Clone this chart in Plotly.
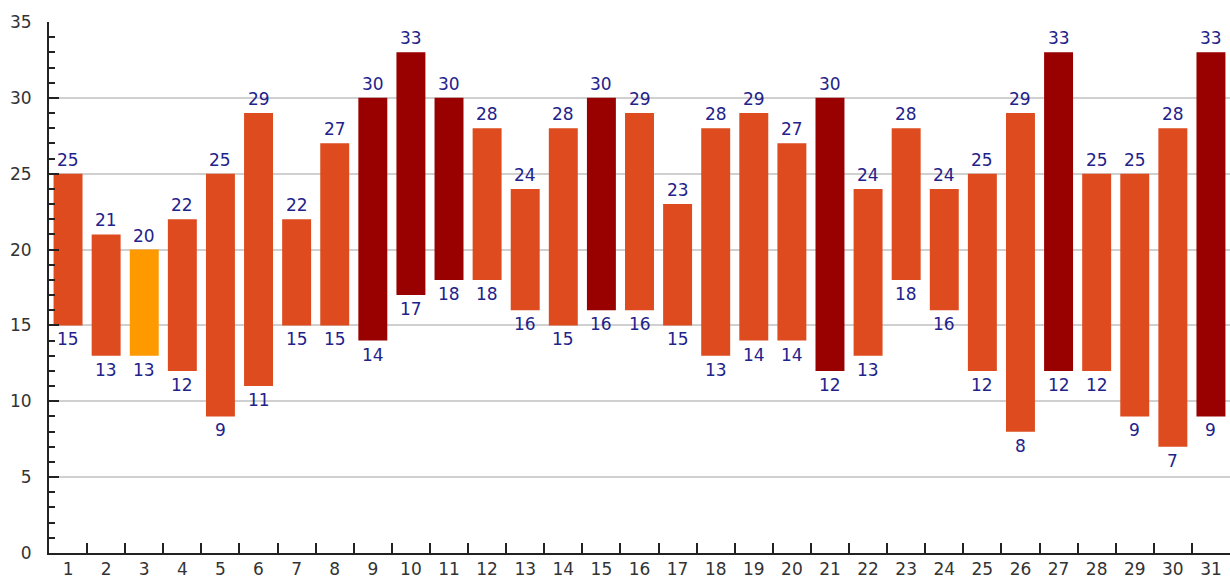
import plotly.graph_objects as go

days = [str(d) for d in range(1, 32)]
highs = [25, 21, 20, 22, 25, 29, 22, 27, 30, 33, 30, 28, 24, 28, 30, 29, 23, 28, 29, 27,
         30, 24, 28, 24, 25, 29, 33, 25, 25, 28, 33]
lows = [15, 13, 13, 12, 9, 11, 15, 15, 14, 17, 18, 18, 16, 15, 16, 16, 15, 13, 14, 14,
        12, 13, 18, 16, 12, 8, 12, 12, 9, 7, 9]
y_ticks = [0, 5, 10, 15, 20, 25, 30, 35]


def color_for(h):
    if h >= 30:
        return "#990000"
    if h <= 20:
        return "#FF9900"
    return "#DD4B1E"


colors = [color_for(h) for h in highs]
spans = [h - l for h, l in zip(highs, lows)]

fig = go.Figure()
fig.add_trace(go.Bar(x=days, y=spans, base=lows, marker=dict(color=colors, line=dict(width=0)),
                     hoverinfo="skip", showlegend=False))

label_font = dict(color="#22228A", size=17, family="DejaVu Sans")
for i, (h, l) in enumerate(zip(highs, lows)):
    fig.add_annotation(x=i, y=h, text=str(h), showarrow=False, yanchor="bottom",
                       yshift=2, font=label_font)
    fig.add_annotation(x=i, y=l, text=str(l), showarrow=False, yanchor="top",
                       yshift=-2, font=label_font)

fig.update_layout(
    width=1230, height=578,
    margin=dict(l=49, r=0, t=22, b=25),
    plot_bgcolor="white", paper_bgcolor="white",
    bargap=0.24,
    font=dict(family="DejaVu Sans", size=16, color="#333333"),
    xaxis=dict(type="category", tickson="boundaries", ticks="inside", ticklen=10,
               tickcolor="#222222", tickwidth=2, showline=True, linecolor="#222222", linewidth=2,
               showgrid=False, range=[-0.5, 30.5], tickfont=dict(size=17, color="#333333")),
    yaxis=dict(range=[0, 35], tickvals=y_ticks, ticks="inside", ticklen=10, tickwidth=2,
               tickcolor="#222222", showline=True, linecolor="#222222", linewidth=2,
               showgrid=True, gridcolor="#d0d0d0", gridwidth=1.5, zeroline=False,
               ticklabelstandoff=12,
               minor=dict(dtick=1, ticks="inside", ticklen=6, tickcolor="#222222", showgrid=False),
               tickfont=dict(size=17, color="#333333")),
)

fig.write_html("out.html", config={"displayModeBar": False},
               post_script="document.body.style.margin='0';document.body.style.overflow='hidden';")
